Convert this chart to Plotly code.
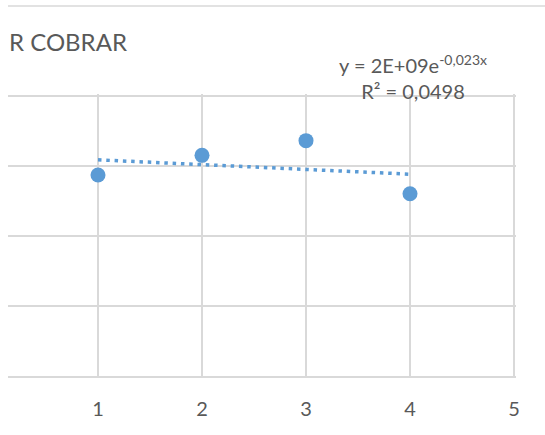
import numpy as np
import plotly.graph_objects as go

# Data
periods = [1, 2, 3, 4]
values = [1.436e9, 1.576e9, 1.681e9, 1.302e9]
x_ticks = [1, 2, 3, 4, 5]
y_ticks = [0, 0.5e9, 1.0e9, 1.5e9, 2.0e9]
title_text = "R COBRAR"
equation_text = "y = 2E+09e<sup>-0,023x</sup><br>R² = 0,0498"

# Exponential trendline fitted to the data
b, ln_a = np.polyfit(np.array(periods, float), np.log(np.array(values)), 1)
tx = np.linspace(periods[0], periods[-1], 60)
ty = np.exp(ln_a) * np.exp(b * tx)

W, H = 545, 435
ml, mr, mt, mb = 8, 29, 94, 59
pw, ph = W - ml - mr, H - mt - mb

grid = "#D9D9D9"
txt = "#595959"
blue = "#5B9BD5"
font = "Lato"

fig = go.Figure()
fig.add_trace(go.Scatter(
    x=periods, y=values, mode="markers",
    marker=dict(color=blue, size=15, line=dict(width=0)),
    showlegend=False, hoverinfo="skip"))
fig.add_trace(go.Scatter(
    x=tx, y=ty, mode="lines",
    line=dict(color=blue, width=3.5, dash="3.5px,4.8px"),
    showlegend=False, hoverinfo="skip"))

fig.update_layout(
    width=W, height=H,
    margin=dict(l=ml, r=mr, t=mt, b=mb, pad=0),
    paper_bgcolor="white", plot_bgcolor="white",
    font=dict(family=font, color=txt),
    xaxis=dict(range=[1 - (98 - 8) / 104, 5 + 2 / 104], tickvals=x_ticks,
               showgrid=True, gridcolor=grid, gridwidth=1.5,
               zeroline=False, showline=True, linecolor=grid, linewidth=1.5,
               ticks="outside", ticklen=14, tickcolor="rgba(0,0,0,0)",
               tickfont=dict(size=20, color=txt, family=font)),
    yaxis=dict(range=[0, 2.0e9 + 2 / 140 * 1e9], tickvals=y_ticks, showticklabels=False,
               showgrid=True, gridcolor=grid, gridwidth=1.5,
               zeroline=False, showline=False, ticks=""),
    shapes=[dict(type="line", xref="paper", yref="paper",
                 x0=0, x1=(W - ml + 5) / pw, y0=1 + (mt - 6) / ph, y1=1 + (mt - 6) / ph,
                 line=dict(color=grid, width=1.5))],
    annotations=[
        dict(text=title_text, xref="paper", yref="paper", x=-1 / pw, y=1 + (mt - 42) / ph,
             xanchor="left", yanchor="middle", showarrow=False,
             font=dict(size=24, color=txt, family=font)),
        dict(text=equation_text, xref="paper", yref="paper",
             x=(413 - ml) / pw, y=1 + (mt - 77) / ph,
             xanchor="center", yanchor="middle", align="center", showarrow=False,
             font=dict(size=20, color=txt, family=font)),
    ],
)

fig.write_html("out.html", config={"displayModeBar": False},
               post_script="document.body.style.margin='0px';")
